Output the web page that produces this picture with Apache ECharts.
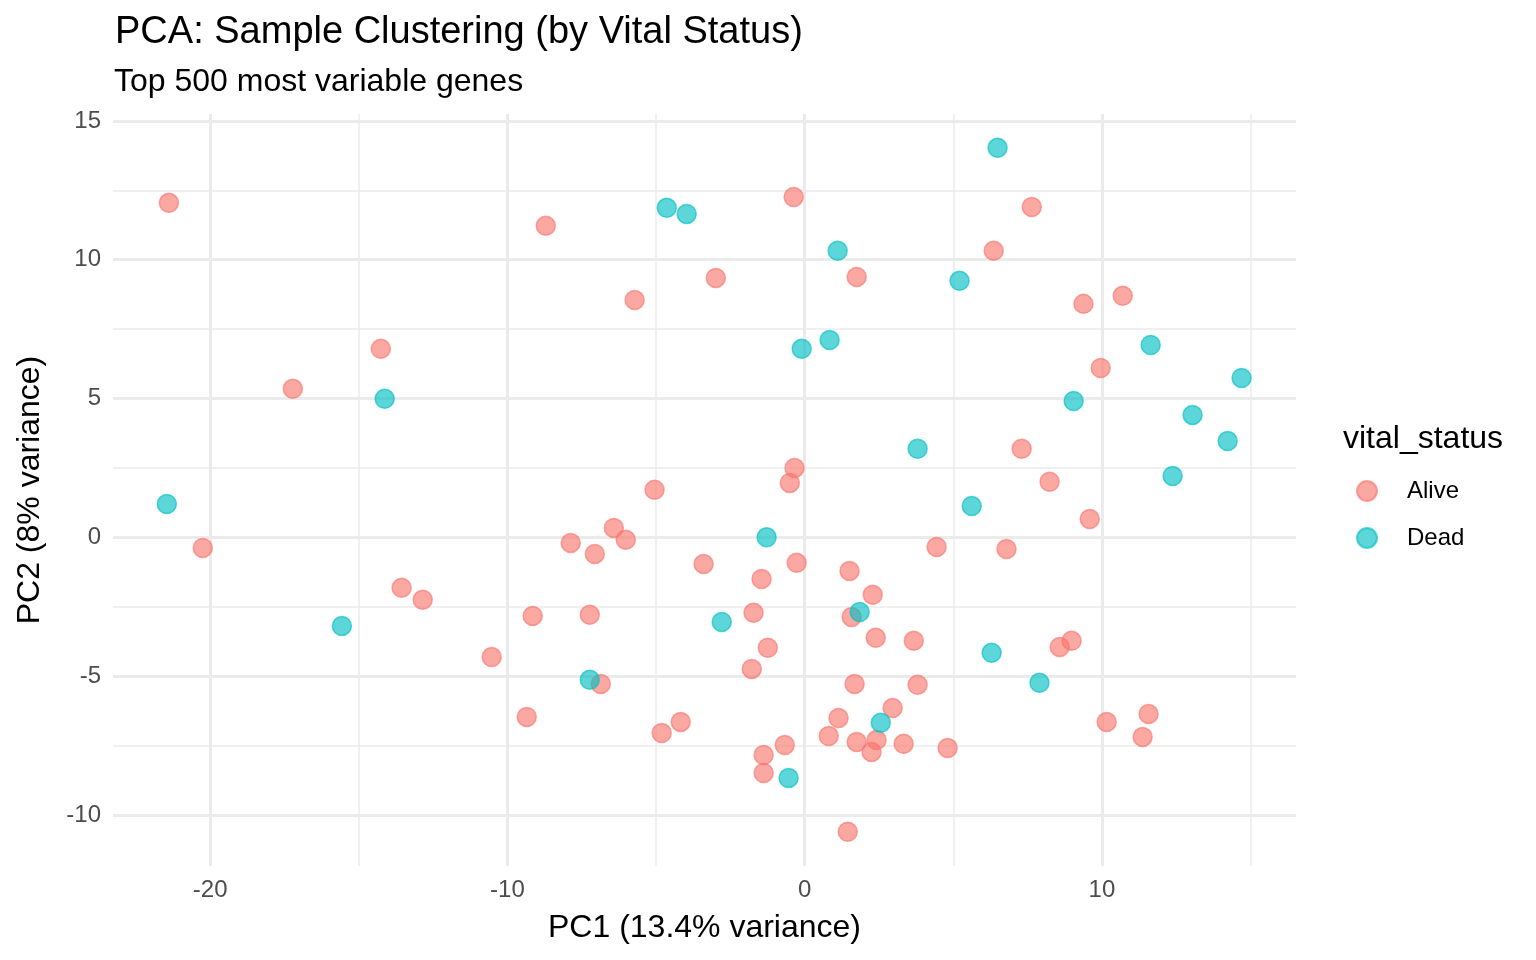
<!DOCTYPE html>
<html>
<head>
<meta charset="utf-8">
<script src="https://cdn.jsdelivr.net/npm/echarts@6/dist/echarts.min.js"></script>
<style>
html,body{margin:0;padding:0;background:#fff;}
#chart{width:1536px;height:960px;}
</style>
</head>
<body>
<div id="chart"></div>
<script>
// ---- Data ----
const aliveX = [-21.39,-8.71,-0.37,7.64,6.36,1.75,-2.99,-5.72,9.38,10.70,-14.26,-17.22,9.96,7.30,-0.34,-0.50,-5.05,8.24,9.59,-20.25,-7.87,-6.42,-7.06,-6.02,4.44,6.79,-3.40,-0.27,1.51,-1.45,-13.56,-12.85,2.29,-9.15,-7.23,-1.72,1.58,2.39,3.67,8.98,8.58,-1.24,-10.53,-1.78,-6.86,1.68,3.80,2.96,-9.35,-4.17,1.14,10.16,11.57,-4.81,0.81,11.37,1.75,2.42,-0.67,3.33,2.25,4.81,-1.38,-1.38,1.45];
const aliveY = [12.05,11.22,12.26,11.90,10.32,9.38,9.34,8.55,8.41,8.70,6.79,5.35,6.10,3.19,2.50,1.96,1.71,2.00,0.66,-0.38,-0.20,0.34,-0.60,-0.09,-0.35,-0.42,-0.96,-0.92,-1.21,-1.50,-1.82,-2.25,-2.07,-2.83,-2.79,-2.72,-2.87,-3.62,-3.73,-3.73,-3.95,-3.98,-4.31,-4.74,-5.28,-5.28,-5.31,-6.15,-6.47,-6.65,-6.51,-6.65,-6.36,-7.05,-7.16,-7.19,-7.37,-7.30,-7.48,-7.44,-7.73,-7.59,-7.84,-8.49,-10.61];
const deadX = [6.49,-4.64,-3.97,1.11,5.21,0.84,-0.10,11.64,14.70,-14.13,9.05,13.05,14.23,3.80,12.38,-21.46,5.62,-1.28,-15.57,-2.79,1.85,6.29,7.90,-7.23,2.56,-0.54];
const deadY = [14.03,11.87,11.65,10.32,9.24,7.11,6.79,6.93,5.74,4.99,4.91,4.41,3.47,3.19,2.21,1.20,1.13,0.00,-3.19,-3.05,-2.69,-4.16,-5.24,-5.13,-6.68,-8.67];

const xMajorTicks = [-20,-10,0,10];
const xMinorTicks = [-15,-5,5,15];
const yMajorTicks = [-10,-5,0,5,10,15];
const yMinorTicks = [-7.5,-2.5,2.5,7.5,12.5];

const groups = ['Alive','Dead'];
const titleText = 'PCA: Sample Clustering (by Vital Status)';
const subtitleText = 'Top 500 most variable genes';
const xTitle = 'PC1 (13.4% variance)';
const yTitle = 'PC2 (8% variance)';
const legendTitle = 'vital_status';

const FONT = '"Liberation Sans", Arial, Helvetica, sans-serif';
const xRange = [-23.27, 16.53];
const yRange = [-11.84, 15.25];

const zip = (xs, ys) => xs.map((v, i) => [v, ys[i]]);

const chart = echarts.init(document.getElementById('chart'), null, {renderer: 'canvas'});

function axisBase(type, ticks, isMinor, show) {
  return {
    type: 'value',
    min: type === 'x' ? xRange[0] : yRange[0],
    max: type === 'x' ? xRange[1] : yRange[1],
    show: true,
    axisLine: {show: false},
    axisTick: {show: false, customValues: ticks},
    axisLabel: show ? {
      show: true,
      customValues: ticks,
      color: '#4D4D4D',
      fontSize: 24,
      fontFamily: FONT,
      margin: 12
    } : {show: false},
    splitLine: {show: true, lineStyle: {color: '#EBEBEB', width: isMinor ? 1.5 : 3}},
    minorSplitLine: {show: false}
  };
}

const xMain = axisBase('x', xMajorTicks, false, true);
xMain.name = xTitle;
xMain.nameLocation = 'middle';
xMain.nameGap = 46;
xMain.nameTextStyle = {fontSize: 32, color: '#000', fontFamily: FONT};
const xMinor = axisBase('x', xMinorTicks, true, false);
xMinor.position = 'top';

const yMain = axisBase('y', yMajorTicks, false, true);
yMain.name = yTitle;
yMain.nameLocation = 'middle';
yMain.nameGap = 67;
yMain.nameTextStyle = {fontSize: 32, color: '#000', fontFamily: FONT};
const yMinor = axisBase('y', yMinorTicks, true, false);
yMinor.position = 'right';

const colors = ['rgba(248,118,109,0.8)', 'rgba(0,191,196,0.8)'];

chart.setOption({
  animation: false,
  backgroundColor: '#fff',
  title: [
    {text: titleText, left: 110, top: 9, textStyle: {fontSize: 38, fontWeight: 'normal', color: '#000', fontFamily: FONT}},
    {text: subtitleText, left: 109, top: 61, textStyle: {fontSize: 32, fontWeight: 'normal', color: '#000', fontFamily: FONT}},
    {text: legendTitle, left: 1338, top: 418, textStyle: {fontSize: 32, fontWeight: 'normal', color: '#000', fontFamily: FONT}}
  ],
  grid: {left: 113, right: 240, top: 114, bottom: 94, containLabel: false},
  xAxis: [xMinor, xMain],
  yAxis: [yMinor, yMain],
  legend: {
    orient: 'vertical',
    left: 1351,
    top: 474,
    itemWidth: 20,
    itemHeight: 20,
    itemGap: 23,
    icon: 'circle',
    data: groups,
    textStyle: {fontSize: 24, color: '#000', fontFamily: FONT, padding: [0, 0, 0, 25]}
  },
  series: [
    {
      name: groups[0], type: 'scatter', xAxisIndex: 1, yAxisIndex: 1,
      symbolSize: 19,
      itemStyle: {color: colors[0], borderColor: colors[0], borderWidth: 1.5},
      data: zip(aliveX, aliveY)
    },
    {
      name: groups[1], type: 'scatter', xAxisIndex: 1, yAxisIndex: 1,
      symbolSize: 19,
      itemStyle: {color: colors[1], borderColor: colors[1], borderWidth: 1.5},
      data: zip(deadX, deadY)
    }
  ]
});
</script>
</body>
</html>
